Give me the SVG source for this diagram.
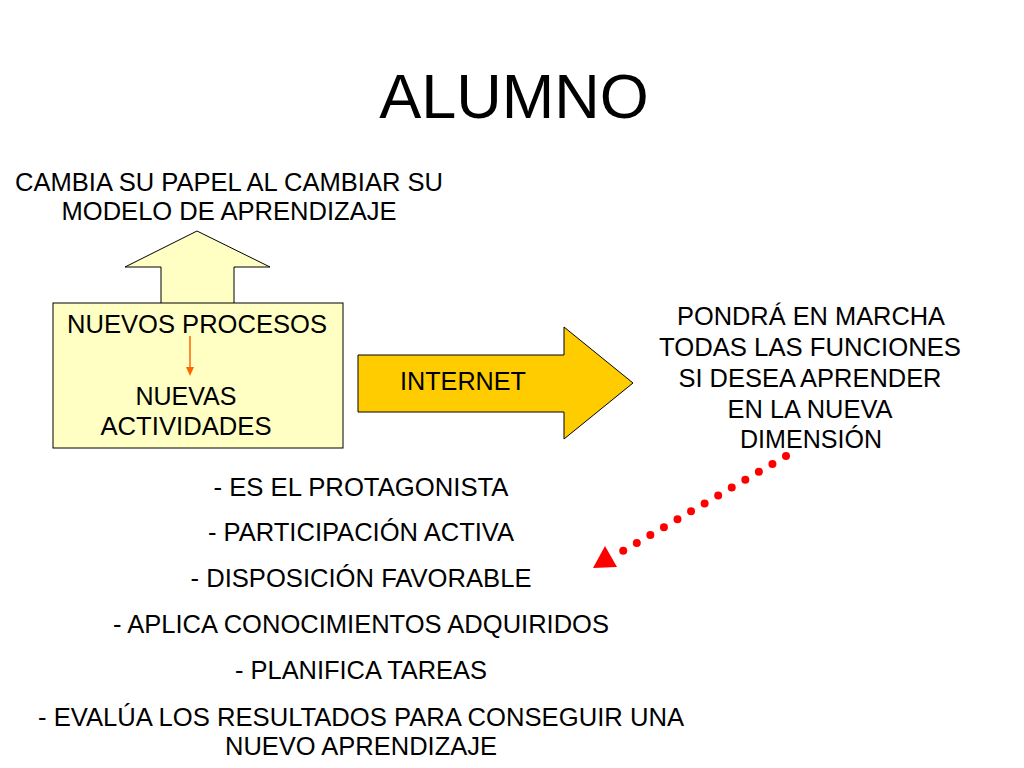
<svg xmlns="http://www.w3.org/2000/svg" width="1024" height="768" viewBox="0 0 1024 768">
<style>
text{font-family:"Liberation Sans",Arial,sans-serif;fill:#000;text-anchor:middle}
.t{font-size:25px}
.l{font-size:26px}
.shape{stroke:#000;stroke-width:1}
</style>
<rect width="1024" height="768" fill="#fff"/>
<g id="title"><text x="514" y="118" style="font-size:63px">ALUMNO</text></g>
<g id="cambia">
<text class="t" x="229" y="191" textLength="428" lengthAdjust="spacingAndGlyphs">CAMBIA SU PAPEL AL CAMBIAR SU</text>
<text class="t" x="229" y="220" textLength="335" lengthAdjust="spacingAndGlyphs">MODELO DE APRENDIZAJE</text>
</g>
<g id="up-arrow"><polygon class="shape" fill="#FFFFC4" points="161,304 161,267 125,267 197,231 270,267 234,267 234,304"/></g>
<g id="procesos">
<rect class="shape" fill="#FFFFC4" x="53" y="303" width="290" height="145"/>
<text class="t" x="197" y="333" textLength="260" lengthAdjust="spacingAndGlyphs">NUEVOS PROCESOS</text>
<text class="t" x="186" y="405">NUEVAS</text>
<text class="t" x="186" y="435" textLength="171" lengthAdjust="spacingAndGlyphs">ACTIVIDADES</text>
</g>
<g id="internet">
<polygon class="shape" fill="#FFCC00" points="358,355 564,355 564,327 633,383 564,439 564,412 358,412"/>
<text class="t" x="463" y="390" textLength="126" lengthAdjust="spacingAndGlyphs">INTERNET</text>
</g>
<g id="pondra">
<text class="t" x="811" y="325" textLength="268" lengthAdjust="spacingAndGlyphs">PONDRÁ EN MARCHA</text>
<text class="t" x="810" y="356" textLength="302" lengthAdjust="spacingAndGlyphs">TODAS LAS FUNCIONES</text>
<text class="t" x="810" y="387" textLength="263" lengthAdjust="spacingAndGlyphs">SI DESEA APRENDER</text>
<text class="t" x="810" y="418" textLength="165" lengthAdjust="spacingAndGlyphs">EN LA NUEVA</text>
<text class="t" x="811" y="448" textLength="142" lengthAdjust="spacingAndGlyphs">DIMENSIÓN</text>
</g>
<g id="connectors">
<line x1="190" y1="336" x2="190" y2="368" stroke="#FF6600" stroke-width="1.5"/>
<polygon points="186,367 194,367 190,376" fill="#FF6600"/>
<line x1="786" y1="456" x2="623" y2="551" stroke="#FF0000" stroke-width="8" stroke-linecap="round" stroke-dasharray="0 15.7"/>
<polygon points="593,568 617,567 605,546" fill="#FF0000"/>
</g>
<g id="list">
<text class="l" x="361" y="496" textLength="295" lengthAdjust="spacingAndGlyphs">- ES EL PROTAGONISTA</text>
<text class="l" x="361" y="541" textLength="306" lengthAdjust="spacingAndGlyphs">- PARTICIPACIÓN ACTIVA</text>
<text class="l" x="361" y="587" textLength="341" lengthAdjust="spacingAndGlyphs">- DISPOSICIÓN FAVORABLE</text>
<text class="l" x="361" y="633" textLength="496" lengthAdjust="spacingAndGlyphs">- APLICA CONOCIMIENTOS ADQUIRIDOS</text>
<text class="l" x="361" y="679" textLength="252" lengthAdjust="spacingAndGlyphs">- PLANIFICA TAREAS</text>
<text class="l" x="361" y="726" textLength="646" lengthAdjust="spacingAndGlyphs">- EVALÚA LOS RESULTADOS PARA CONSEGUIR UNA</text>
<text class="l" x="361" y="755" textLength="272" lengthAdjust="spacingAndGlyphs">NUEVO APRENDIZAJE</text>
</g>
</svg>
